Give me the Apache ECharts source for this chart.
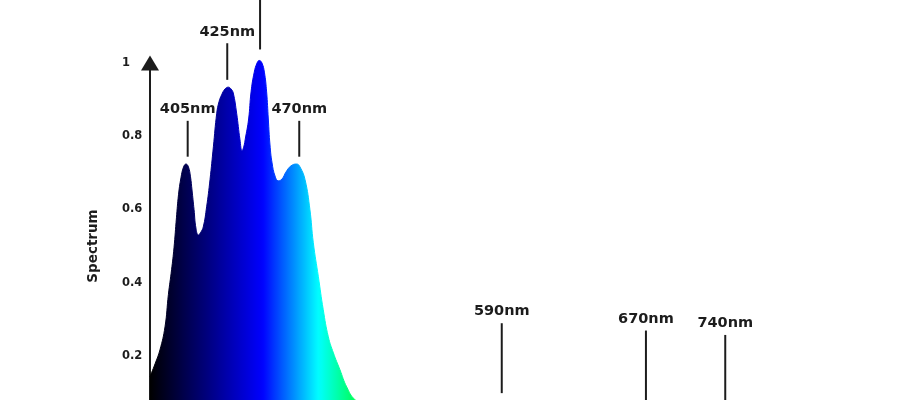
<!DOCTYPE html>
<html>
<head>
<meta charset="utf-8">
<script src="https://cdn.jsdelivr.net/npm/echarts@6/dist/echarts.min.js"></script>
<style>html,body{margin:0;padding:0;background:#fff}#chart{width:920px;height:400px}</style>
</head>
<body>
<div id="chart"></div>
<script>
// Wavelength position (nm scale of the plot) and relative spectrum intensity
const wavelength = [380.0,382.7,385.3,388.0,389.8,391.5,392.8,394.1,395.2,396.5,397.9,399.2,400.5,401.6,402.4,403.5,404.5,405.8,406.9,408.4,410.2,412.0,413.8,415.6,416.8,418.2,420.0,421.8,423.2,424.4,426.2,428.0,429.1,430.1,430.8,432.6,433.9,435.6,437.1,438.3,439.7,441.0,442.2,443.1,444.0,445.1,446.7,448.4,450.4,452.5,455.2,458.2,460.0,462.7,465.3,467.1,469.8,472.4,475.1,477.8,481.3,484.9,489.3,497.3,513.3,530.0,550.7,567.7,588.0,620.0,644.5,668.0,686.7,716.0,780.0];
const intensity = [0.143,0.178,0.216,0.279,0.367,0.435,0.495,0.577,0.640,0.686,0.716,0.724,0.716,0.689,0.653,0.599,0.549,0.530,0.536,0.552,0.607,0.681,0.771,0.863,0.894,0.913,0.929,0.934,0.929,0.918,0.863,0.790,0.760,0.773,0.792,0.847,0.921,0.975,1.000,1.007,1.000,0.975,0.921,0.847,0.776,0.727,0.691,0.678,0.683,0.702,0.719,0.724,0.716,0.681,0.599,0.509,0.416,0.326,0.252,0.208,0.162,0.115,0.080,0.053,0.025,0.015,0.025,0.069,0.020,0.025,0.052,0.025,0.047,0.012,0.001];

// Peak annotations
const annoLabels = ['405nm','425nm','450nm','470nm','590nm','670nm','740nm'];
const annoX      = [400.1, 421.2, 438.7, 459.6, 567.6, 644.5, 686.8];
const annoTop    = [0.842, 1.054, 1.227, 0.842, 0.289, 0.269, 0.257];
const annoBottom = [0.744, 0.954, 1.037, 0.744, 0.098, 0.060, 0.055];

const yTickLabels = ['0','0.2','0.4','0.6','0.8','1'];

const spectrumColors = ['#000000','#00007c','#0000ff','#00ffff','#00ff00','#80ff00','#ffff00','#ff8000','#ff0000','#e00000','#b00000','#800000','#500000','#300000'];

const chart = echarts.init(document.getElementById('chart'), null, {renderer:'canvas'});
const ink = '#1c1c1c';
const fontFam = '"DejaVu Sans", Verdana, sans-serif';

chart.setOption({
  backgroundColor: '#ffffff',
  animation: false,
  grid: { left: 150, right: 20, top: 63, bottom: -29, outerBoundsMode: 'none', containLabel: false },
  xAxis: {
    type: 'value', min: 380, max: 780,
    axisLine: { show: true, lineStyle: { color: ink, width: 2 } },
    axisTick: { show: false }, axisLabel: { show: false }, splitLine: { show: false }
  },
  yAxis: {
    type: 'value', min: 0, max: 1, interval: 0.2,
    name: 'Spectrum', nameLocation: 'middle', nameGap: 50,
    nameTextStyle: { fontFamily: fontFam, fontWeight: 'bold', fontSize: 13.5, color: ink },
    axisLine: { show: true, symbol: ['none','triangle'], symbolSize: [18, 15], lineStyle: { color: ink, width: 2 } },
    axisTick: { show: false },
    splitLine: { show: false },
    axisLabel: {
      align: 'left', margin: 28, fontFamily: fontFam, fontWeight: 'bold', fontSize: 11.5, color: ink,
      formatter: function (v) { return yTickLabels[Math.round(v / 0.2)]; }
    }
  },
  visualMap: {
    show: false, type: 'continuous', seriesIndex: 0, dimension: 0,
    min: 380, max: 770, inRange: { color: spectrumColors }
  },
  series: [
    {
      type: 'line',
      data: wavelength.map((w, i) => [w, intensity[i]]),
      smooth: 0.45,
      showSymbol: false, symbol: 'none', clip: false,
      lineStyle: { width: 1 },
      areaStyle: { opacity: 1 },
      z: 2
    },
    {
      type: 'custom',
      data: annoX.map((x, i) => [x, annoTop[i], annoBottom[i]]),
      clip: false,
      z: 3,
      renderItem: function (params, api) {
        const x = api.value(0);
        const p1 = api.coord([x, api.value(1)]);
        const p2 = api.coord([x, api.value(2)]);
        return {
          type: 'group',
          children: [
            { type: 'line', shape: { x1: p1[0], y1: p1[1], x2: p2[0], y2: p2[1] }, style: { stroke: ink, lineWidth: 2 } },
            { type: 'text', x: p1[0], y: p1[1] - 4, style: { text: annoLabels[params.dataIndex], fill: ink, font: 'bold 14.5px ' + fontFam, align: 'center', verticalAlign: 'bottom' } }
          ]
        };
      }
    }
  ]
});
</script>
</body>
</html>
